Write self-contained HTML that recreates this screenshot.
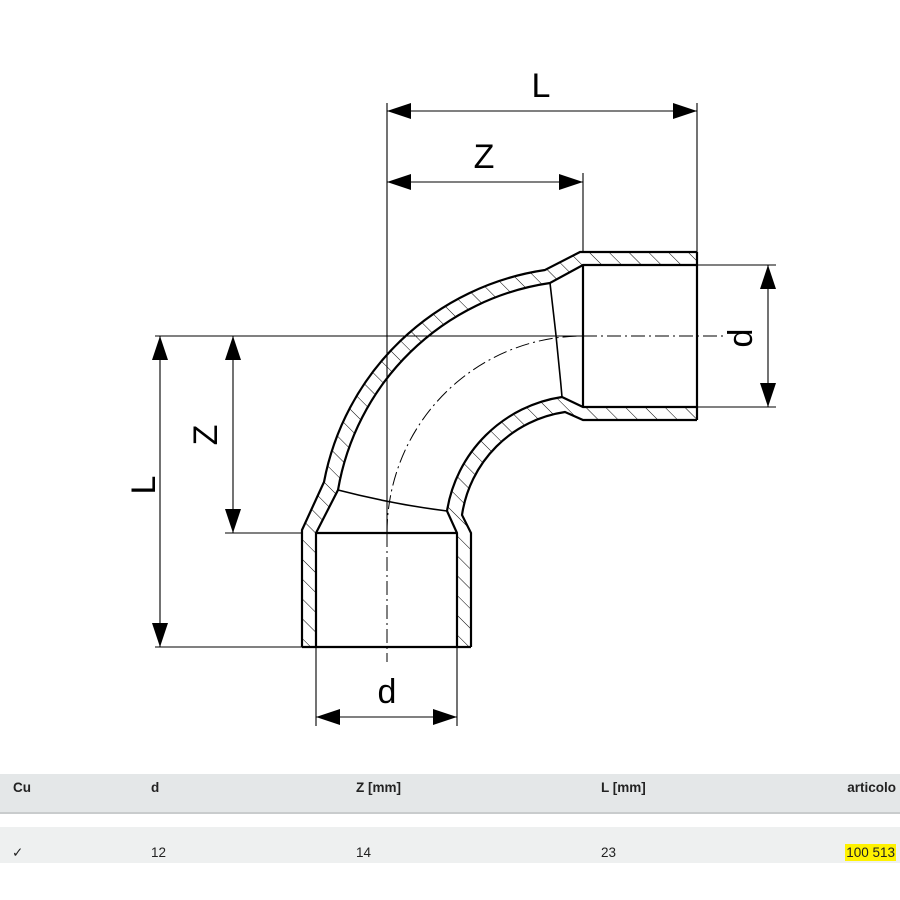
<!DOCTYPE html>
<html><head><meta charset="utf-8"><style>
body{margin:0;background:#fff;width:900px;height:900px;overflow:hidden;position:relative;font-family:"Liberation Sans Narrow","Liberation Sans",sans-serif}
.hd{position:absolute;left:0;top:774px;width:900px;height:38px;background:#e4e7e8;border-bottom:2px solid #c9cccd}
.rw{position:absolute;left:0;top:827px;width:900px;height:36px;background:#eef0f0}
.t{position:absolute;font-size:13.5px;color:#222}
.b{font-weight:bold}
</style></head><body>
<svg width="900" height="770" style="position:absolute;left:0;top:0" xmlns="http://www.w3.org/2000/svg">
<defs>
<pattern id="h" patternUnits="userSpaceOnUse" width="14" height="14" patternTransform="rotate(-45)">
<line x1="0" y1="0" x2="0" y2="14" stroke="#000" stroke-width="1"/>
</pattern>
</defs>
<g fill="url(#h)" stroke="none">
<path d="M302,647 L302,530 L324,482 A264,264 0 0 1 545,270 L580,252 L697,252 L697,265 L583,265 L550,283 A252,252 0 0 0 338,490 L316,533 L316,647 Z"/>
<path d="M471,647 L471,533 L462,515 A122,122 0 0 1 565,412 L583,420 L697,420 L697,407 L583,407 L562,397 A137,137 0 0 0 447,511 L457,533 L457,647 Z"/>
</g>
<g fill="none" stroke="#000" stroke-width="2.2">
<path d="M302,647 L302,530 L324,482 A264,264 0 0 1 545,270 L580,252 L697,252"/>
<path d="M316,647 L316,533 L338,490 A252,252 0 0 1 550,283 L583,265 L697,265"/>
<path d="M457,647 L457,533 L447,511 A137,137 0 0 1 562,397 L583,407 L697,407"/>
<path d="M471,647 L471,533 L462,515 A122,122 0 0 1 565,412 L583,420 L697,420"/>
<path d="M302,647 L471,647 M316,533 L457,533 M697,252 L697,420 M583,265 L583,407"/>
</g>
<g fill="none" stroke="#000" stroke-width="1.6">
<path d="M338,490 Q392,504 447,511"/>
<path d="M550,283 Q557,340 562,397"/>
</g>
<g stroke="#000" stroke-width="1.1" fill="none">
<path d="M387,103 L387,533 M697,103 L697,252 M583,173 L583,252"/>
<path d="M155,336 L583,336 M225,533 L302,533 M155,647 L302,647"/>
<path d="M697,265 L776,265 M697,407 L776,407"/>
<path d="M316,647 L316,726 M457,647 L457,726"/>
<path d="M387,111 L697,111 M387,182 L583,182"/>
<path d="M160,336 L160,647 M233,336 L233,533"/>
<path d="M768,265 L768,407 M316,717 L457,717"/>
</g>
<g stroke="#000" stroke-width="1" fill="none" stroke-dasharray="14,4,2,4">
<path d="M583,336 L725,336"/>
<path d="M387,533 L387,662"/>
<path d="M387,533 A196,197 0 0 1 583,336"/>
</g>
<g fill="#000">
<path d="M387,111 l24,-8 l0,16 Z M697,111 l-24,-8 l0,16 Z"/>
<path d="M387,182 l24,-8 l0,16 Z M583,182 l-24,-8 l0,16 Z"/>
<path d="M160,336 l-8,24 l16,0 Z M160,647 l-8,-24 l16,0 Z"/>
<path d="M233,336 l-8,24 l16,0 Z M233,533 l-8,-24 l16,0 Z"/>
<path d="M768,265 l-8,24 l16,0 Z M768,407 l-8,-24 l16,0 Z"/>
<path d="M316,717 l24,-8 l0,16 Z M457,717 l-24,-8 l0,16 Z"/>
</g>
<g font-family="Liberation Sans, sans-serif" font-size="34" fill="#000" text-anchor="middle">
<text x="541" y="97">L</text>
<text x="484" y="168">Z</text>
<text x="387" y="703">d</text>
<text transform="translate(155,485) rotate(-90)">L</text>
<text transform="translate(217,435) rotate(-90)">Z</text>
<text transform="translate(752,338) rotate(-90)">d</text>
</g>
</svg>
<div class="hd"></div>
<div class="rw"></div>
<div class="t b" style="left:13px;top:780px">Cu</div>
<div class="t b" style="left:151px;top:780px">d</div>
<div class="t b" style="left:356px;top:780px">Z [mm]</div>
<div class="t b" style="left:601px;top:780px">L [mm]</div>
<div class="t b" style="right:4px;top:780px">articolo</div>
<div class="t" style="left:12px;top:845px">✓</div>
<div class="t" style="left:151px;top:845px">12</div>
<div class="t" style="left:356px;top:845px">14</div>
<div class="t" style="left:601px;top:845px">23</div>
<div class="t" style="right:4px;top:844px;background:#fff200;padding:1px 1px">100 513</div>
</body></html>
